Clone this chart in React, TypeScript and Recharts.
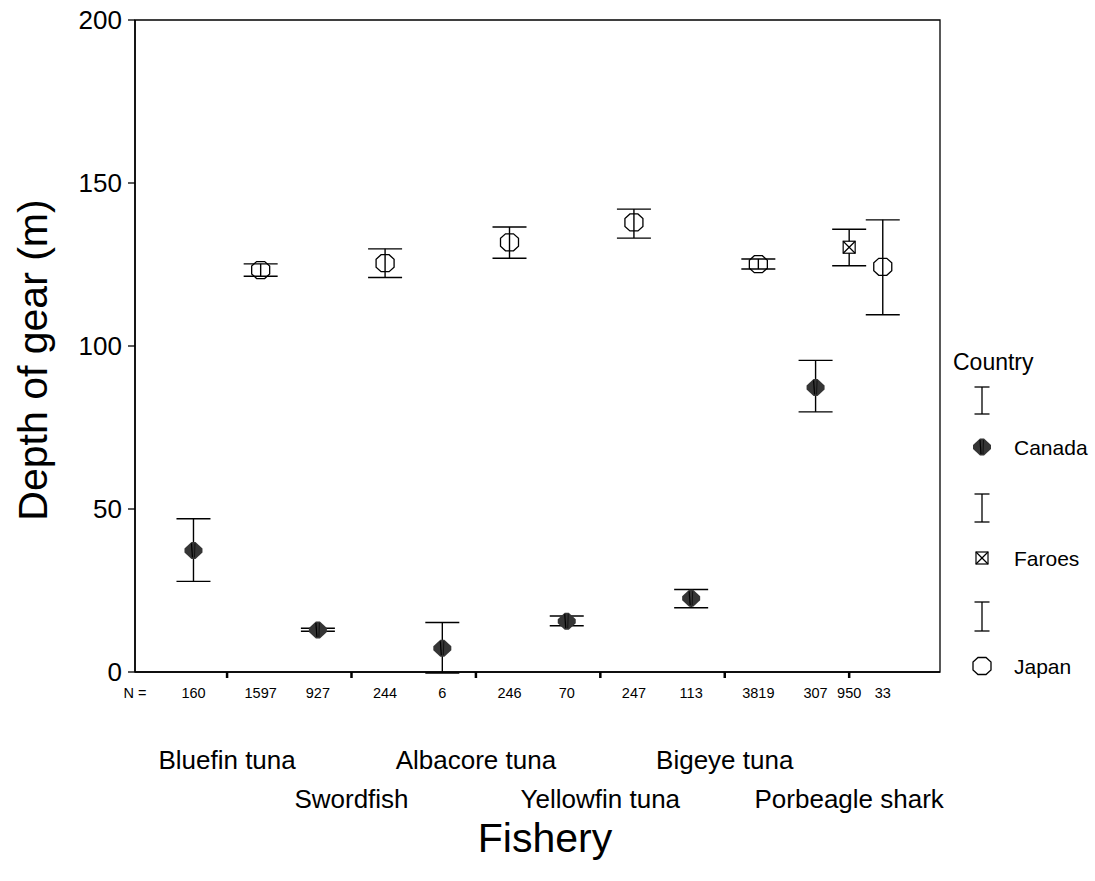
import React from "react";
import { ScatterChart, Scatter, XAxis, YAxis, ErrorBar, ReferenceArea } from "recharts";

// Mean gear depth by fishery and fleet, with error bars and sample sizes.

const FISHERIES = ["Bluefin tuna", "Swordfish", "Albacore tuna", "Yellowfin tuna", "Bigeye tuna", "Porbeagle shark"];

const CANADA_MEAN = [37.3, 12.9, 7.3, 15.6, 22.6, 87.3];
const CANADA_LOW = [27.8, 12.5, -0.3, 14.2, 19.7, 79.8];
const CANADA_HIGH = [47.0, 13.4, 15.2, 17.2, 25.3, 95.6];
const CANADA_N = [160, 927, 6, 70, 113, 307];

const JAPAN_MEAN = [123.3, 125.4, 131.8, 137.9, 125.1, 124.3];
const JAPAN_LOW = [121.4, 121.0, 126.9, 133.1, 123.6, 109.6];
const JAPAN_HIGH = [125.2, 129.8, 136.5, 142.0, 126.7, 138.7];
const JAPAN_N = [1597, 244, 246, 247, 3819, 33];

// Faroes only fished porbeagle
const FAROES_GROUP = [5];
const FAROES_MEAN = [130.3];
const FAROES_LOW = [124.6];
const FAROES_HIGH = [135.8];
const FAROES_N = [950];

const Y_TICKS = [0, 50, 100, 150, 200];

const FONT = '"Liberation Sans", Arial, Helvetica, sans-serif';
const W = 1095;
const H = 881;
const MARGIN = { top: 20, right: 155, left: 0, bottom: 0 };
const Y_AXIS_W = 135;
const X_AXIS_H = 209;
const X_MIN = -0.74;
const X_MAX = 5.73;
const SLOT = 0.27; // cluster offset for each country inside a fishery
const PX_PER_UNIT = (W - MARGIN.left - Y_AXIS_W - MARGIN.right) / (X_MAX - X_MIN);

type Pt = { x: number; y: number; err: [number, number]; n: number };

function buildPoints(groups: number[], means: number[], lows: number[], highs: number[], ns: number[], offset: number): Pt[] {
  return groups.map((g, i) => ({
    x: g + offset,
    y: means[i],
    err: [means[i] - lows[i], highs[i] - means[i]],
    n: ns[i],
  }));
}

const ALL_GROUPS = FISHERIES.map((_, i) => i);
const canada = buildPoints(ALL_GROUPS, CANADA_MEAN, CANADA_LOW, CANADA_HIGH, CANADA_N, -SLOT);
const faroes = buildPoints(FAROES_GROUP, FAROES_MEAN, FAROES_LOW, FAROES_HIGH, FAROES_N, 0);
const japan = buildPoints(ALL_GROUPS, JAPAN_MEAN, JAPAN_LOW, JAPAN_HIGH, JAPAN_N, SLOT);

const key = (v: number) => Math.round(v * 100);
const nByX = new Map<number, number>();
[...canada, ...faroes, ...japan].forEach((p) => nByX.set(key(p.x), p.n));
const xTicks = Array.from(new Set([...ALL_GROUPS, ...canada.map((p) => p.x), ...faroes.map((p) => p.x), ...japan.map((p) => p.x)])).sort((a, b) => a - b);

// ---- markers ----
const CanadaMark = ({ cx, cy }: { cx: number; cy: number }) => (
  <g>
    <polygon
      points={`${cx - 2},${cy - 8.5} ${cx + 2},${cy - 8.5} ${cx + 9},${cy - 2} ${cx + 9},${cy + 2} ${cx + 2},${cy + 8.5} ${cx - 2},${cy + 8.5} ${cx - 9},${cy + 2} ${cx - 9},${cy - 2}`}
      fill="#353535"
    />
    <line x1={cx - 2} y1={cy - 7} x2={cx - 1} y2={cy + 7} stroke="#000" strokeWidth={1.2} />
    <line x1={cx + 1.5} y1={cy - 7} x2={cx + 1} y2={cy + 7} stroke="#111" strokeWidth={1} />
  </g>
);

const JapanMark = ({ cx, cy, fill = "none" }: { cx: number; cy: number; fill?: string }) => (
  <polygon
    points={`${cx - 4},${cy - 8.5} ${cx + 4},${cy - 8.5} ${cx + 9},${cy - 4} ${cx + 9},${cy + 4} ${cx + 4},${cy + 8.5} ${cx - 4},${cy + 8.5} ${cx - 9},${cy + 4} ${cx - 9},${cy - 4}`}
    fill={fill}
    stroke="#000"
    strokeWidth={1.3}
  />
);

const FaroesMark = ({ cx, cy }: { cx: number; cy: number }) => (
  <g stroke="#000" strokeWidth={1.2}>
    <rect x={cx - 6} y={cy - 6} width={12} height={12} fill="#fff" />
    <line x1={cx - 6} y1={cy - 6} x2={cx + 6} y2={cy + 6} />
    <line x1={cx + 6} y1={cy - 6} x2={cx - 6} y2={cy + 6} />
  </g>
);

// ---- x axis: group tick marks, N row, staggered fishery names ----
const FisheryTick = (props: any) => {
  const { x, y, payload, index } = props;
  const v: number = payload.value;
  const n = nByX.get(key(v));
  const isGroup = Math.abs(v - Math.round(v)) < 1e-6;
  const g = Math.round(v);
  return (
    <g fontFamily={FONT} fill="#000">
      {index === 0 && (
        <text x={x - (v - X_MIN) * PX_PER_UNIT} y={y + 26} textAnchor="middle" fontSize={14.5}>
          N =
        </text>
      )}
      {n !== undefined && (
        <text x={x} y={y + 26} textAnchor="middle" fontSize={14.5}>
          {n}
        </text>
      )}
      {isGroup && (
        <>
          <line x1={x} y1={y} x2={x} y2={y + 6} stroke="#000" strokeWidth={2.5} />
          <text x={x} y={y + (g % 2 === 0 ? 97 : 136)} textAnchor="middle" fontSize={26}>
            {FISHERIES[g]}
          </text>
        </>
      )}
    </g>
  );
};

const IBar = ({ x, y1, y2 }: { x: number; y1: number; y2: number }) => (
  <g stroke="#000" strokeWidth={1.3}>
    <line x1={x - 7.5} y1={y1} x2={x + 7.5} y2={y1} />
    <line x1={x} y1={y1} x2={x} y2={y2} />
    <line x1={x - 7.5} y1={y2} x2={x + 7.5} y2={y2} />
  </g>
);

const CountryLegend = () => (
  <svg width={150} height={360} style={{ position: "absolute", left: 945, top: 330 }} fontFamily={FONT}>
    <text x={8} y={40} fontSize={23}>Country</text>
    <IBar x={37} y1={57} y2={84} />
    <CanadaMark cx={37} cy={117} />
    <text x={69} y={125} fontSize={21}>Canada</text>
    <IBar x={37} y1={164} y2={192} />
    <FaroesMark cx={37} cy={228} />
    <text x={69} y={236} fontSize={21}>Faroes</text>
    <IBar x={37} y1={272} y2={301} />
    <JapanMark cx={37} cy={336} fill="#fff" />
    <text x={69} y={344} fontSize={21}>Japan</text>
  </svg>
);

export default function App() {
  return (
    <div style={{ position: "absolute", left: 0, top: 0, width: W, height: H, background: "#fff" }}>
      <ScatterChart width={W} height={H} margin={MARGIN}>
        <ReferenceArea x1={X_MIN} x2={X_MAX} y1={0} y2={200} fill="none" stroke="#000" strokeWidth={1.3} />
        <XAxis
          type="number"
          dataKey="x"
          domain={[X_MIN, X_MAX]}
          allowDataOverflow
          ticks={xTicks}
          interval={0}
          height={X_AXIS_H}
          tickLine={false}
          tickSize={0}
          tickMargin={0}
          tick={<FisheryTick />}
          axisLine={{ stroke: "#000", strokeWidth: 1.5 }}
          label={{
            content: () => (
              <text x={545} y={852} textAnchor="middle" fontSize={41} fontFamily={FONT} fill="#000">
                Fishery
              </text>
            ),
          }}
        />
        <YAxis
          type="number"
          dataKey="y"
          domain={[0, 200]}
          allowDataOverflow
          ticks={Y_TICKS}
          width={Y_AXIS_W}
          tickSize={7}
          tickMargin={6}
          tick={{ fill: "#000", fontSize: 26, fontFamily: FONT }}
          tickLine={{ stroke: "#000", strokeWidth: 1.3 }}
          axisLine={{ stroke: "#000", strokeWidth: 1.5 }}
          label={{
            content: () => (
              <text transform="translate(47,360) rotate(-90)" textAnchor="middle" fontSize={41} fontFamily={FONT} fill="#000">
                Depth of gear (m)
              </text>
            ),
          }}
        />
        <Scatter data={canada} isAnimationActive={false} shape={(p: any) => <CanadaMark cx={p.cx} cy={p.cy} />}>
          <ErrorBar dataKey="err" direction="y" width={17} stroke="#000" strokeWidth={1.4} />
        </Scatter>
        <Scatter data={faroes} isAnimationActive={false} shape={(p: any) => <FaroesMark cx={p.cx} cy={p.cy} />}>
          <ErrorBar dataKey="err" direction="y" width={17} stroke="#000" strokeWidth={1.4} />
        </Scatter>
        <Scatter data={japan} isAnimationActive={false} shape={(p: any) => <JapanMark cx={p.cx} cy={p.cy} />}>
          <ErrorBar dataKey="err" direction="y" width={17} stroke="#000" strokeWidth={1.4} />
        </Scatter>
      </ScatterChart>
      <CountryLegend />
    </div>
  );
}
